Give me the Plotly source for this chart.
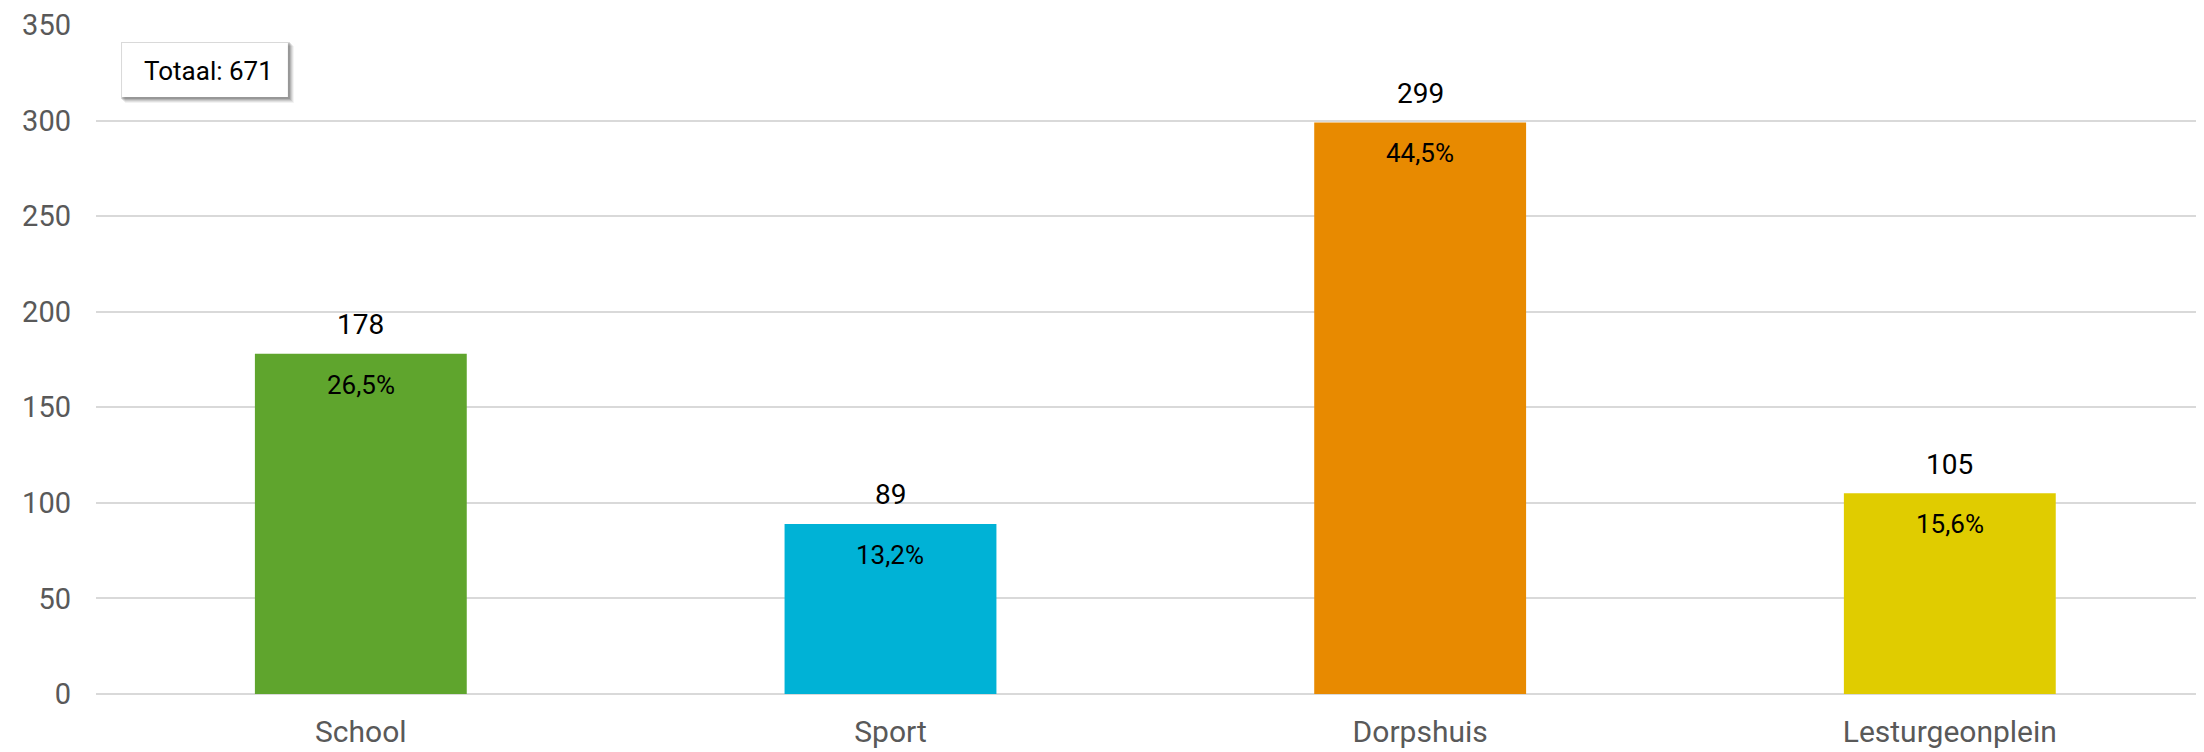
import plotly.graph_objects as go

categories = ["School", "Sport", "Dorpshuis", "Lesturgeonplein"]
values = [178, 89, 299, 105]
percent_labels = ["26,5%", "13,2%", "44,5%", "15,6%"]
colors = ["#5FA52D", "#00B2D6", "#E88A00", "#E0CC00"]
total_label = "Totaal: 671"
y_ticks = [0, 50, 100, 150, 200, 250, 300, 350]

FONT = "Roboto, sans-serif"

fig = go.Figure()
fig.add_trace(go.Bar(
    x=categories, y=values, marker_color=colors, width=0.4,
    marker_line_width=0, showlegend=False, hoverinfo="x+y",
))

annotations = []
for c, v, p in zip(categories, values, percent_labels):
    annotations.append(dict(x=c, y=v, text=str(v), showarrow=False, yanchor="middle",
                            yshift=29, font=dict(size=28, color="#000000", family=FONT)))
    annotations.append(dict(x=c, y=v, text=p, showarrow=False, yanchor="middle",
                            yshift=-31, font=dict(size=26, color="#000000", family=FONT)))

# total box (paper coords relative to plot area)
bx0, bx1, by0, by1 = 0.0123, 0.0907, 0.8924, 0.9731
px_x = 1 / 2116
px_y = 1 / 669
annotations.append(dict(xref="paper", yref="paper", x=bx0 + 20 * px_x, y=0.931, xanchor="left",
                        yanchor="middle", text=total_label, showarrow=False,
                        font=dict(size=26, color="#000000", family=FONT)))

shapes = []
for off, a in [(6, 0.05), (5, 0.07), (4, 0.09), (3, 0.12), (2, 0.15)]:
    shapes.append(dict(type="rect", xref="paper", yref="paper",
                       x0=bx0 + (off - 3) * px_x, x1=bx1 + off * px_x,
                       y0=by0 - off * px_y, y1=by1 - (off - 3) * px_y,
                       fillcolor=f"rgba(0,0,0,{a})", line_width=0, layer="above"))
shapes.append(dict(type="rect", xref="paper", yref="paper", x0=bx0, x1=bx1,
                   y0=by0, y1=by1, fillcolor="#FFFFFF", line_width=0, layer="above"))

fig.update_layout(
    width=2204, height=752,
    margin=dict(l=88, r=0, t=17, b=66),
    paper_bgcolor="white", plot_bgcolor="white",
    annotations=annotations,
    shapes=shapes,
    font=dict(family=FONT),
    xaxis=dict(range=[-0.5, 3.495], showgrid=False, showline=False, zeroline=False,
               tickfont=dict(size=30, color="#595959", family=FONT), ticks="",
               ticklabelstandoff=17),
    yaxis=dict(range=[0, 350], tickvals=y_ticks, showgrid=True, gridcolor="#D9D9D9", gridwidth=1.5,
               zeroline=True, zerolinecolor="#D9D9D9", zerolinewidth=1.5, showline=False,
               tickfont=dict(size=29, color="#595959", family=FONT), ticks="",
               ticklabelstandoff=24),
)

fig.write_html("out.html")
